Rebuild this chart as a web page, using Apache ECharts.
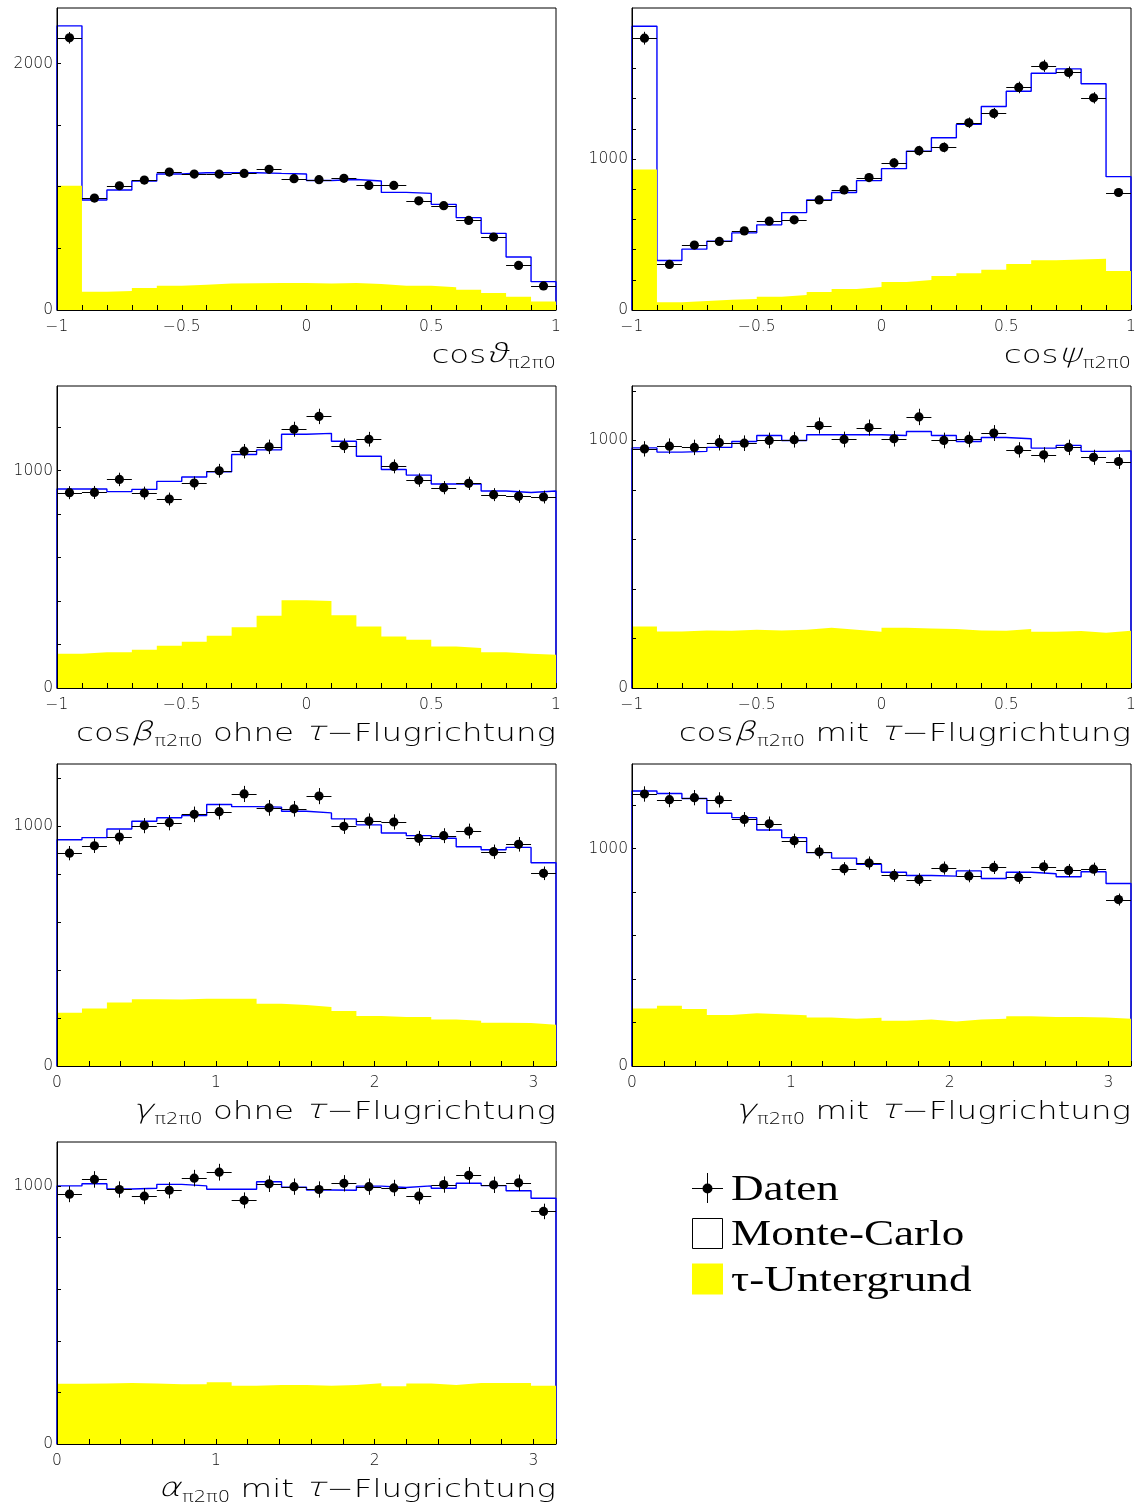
<!DOCTYPE html>
<html>
<head>
<meta charset="utf-8">
<script src="https://cdn.jsdelivr.net/npm/echarts@6/dist/echarts.min.js"></script>
<style>
  html, body { margin: 0; padding: 0; background: #fff; }
  #chart { width: 1140px; height: 1511px; }
</style>
</head>
<body>
<div id="chart"></div>
<script>
// ---- binning ---------------------------------------------------------
const N_BINS = 20;
const COS_RANGE = [-1, 1];
const ANGLE_RANGE = [0, Math.PI];

// ---- tick labels -----------------------------------------------------
const cosTickLabels = [-1, -0.5, 0, 0.5, 1];
const angleTickLabels = [0, 1, 2, 3];
const yLabelsTheta = [0, 2000];
const yLabelsOther = [0, 1000];

// ---- cos(theta) ------------------------------------------------------
const cosThetaData = [2208, 908, 1008, 1054, 1119, 1103, 1103, 1108, 1141, 1065, 1057, 1068, 1011, 1011, 886, 846, 727, 592, 362, 195];
const cosThetaMC   = [2305, 892, 973, 1046, 1103, 1114, 1114, 1114, 1108, 1103, 1051, 1059, 1046, 954, 946, 857, 749, 622, 430, 230];
const cosThetaBkg  = [1008, 149, 154, 178, 197, 205, 214, 216, 219, 219, 214, 219, 211, 197, 197, 184, 165, 138, 108, 68];

// ---- cos(psi) --------------------------------------------------------
const cosPsiData = [1800, 302, 430, 454, 524, 588, 597, 729, 795, 877, 974, 1055, 1077, 1240, 1302, 1474, 1617, 1573, 1405, 778];
const cosPsiMC   = [1879, 328, 403, 456, 511, 564, 645, 729, 778, 857, 936, 1051, 1141, 1229, 1348, 1449, 1568, 1597, 1498, 883];
const cosPsiBkg  = [930, 51, 59, 68, 73, 88, 99, 119, 139, 152, 185, 198, 225, 244, 267, 304, 330, 335, 339, 258];

// ---- cos(beta) without tau direction ---------------------------------
const cosBetaOhneData = [899, 900, 960, 897, 870, 943, 1000, 1090, 1110, 1191, 1250, 1115, 1145, 1020, 957, 922, 942, 890, 882, 879];
const cosBetaOhneMC   = [916, 916, 904, 914, 951, 971, 995, 1075, 1096, 1168, 1172, 1136, 1067, 1006, 980, 939, 939, 907, 900, 907];
const cosBetaOhneBkg  = [158, 164, 164, 176, 194, 213, 240, 280, 332, 404, 401, 335, 283, 237, 222, 191, 184, 164, 158, 153];

// ---- cos(beta) with tau direction ------------------------------------
const cosBetaMitData = [966, 977, 972, 991, 989, 1000, 1003, 1060, 1004, 1052, 1007, 1095, 1000, 1004, 1030, 962, 942, 972, 932, 915];
const cosBetaMitMC   = [970, 953, 956, 972, 996, 1020, 1000, 1023, 1023, 1023, 1020, 1036, 1020, 996, 1012, 1007, 969, 980, 956, 958];
const cosBetaMitBkg  = [248, 228, 232, 231, 235, 232, 235, 243, 235, 227, 243, 240, 238, 232, 231, 238, 227, 230, 223, 231];

// ---- gamma without tau direction -------------------------------------
const gammaOhneData = [888, 919, 955, 1003, 1015, 1050, 1061, 1135, 1077, 1073, 1126, 1000, 1022, 1018, 950, 961, 980, 894, 925, 804];
const gammaOhneMC   = [944, 953, 989, 1021, 1036, 1045, 1091, 1082, 1080, 1063, 1056, 1031, 1006, 972, 961, 950, 915, 902, 912, 848];
const gammaOhneBkg  = [222, 240, 265, 279, 277, 281, 281, 281, 260, 254, 246, 229, 209, 204, 204, 194, 189, 180, 179, 172];

// ---- gamma with tau direction ----------------------------------------
const gammaMitData = [1252, 1226, 1235, 1225, 1135, 1115, 1037, 986, 908, 934, 877, 858, 911, 875, 914, 868, 917, 900, 906, 766];
const gammaMitMC   = [1266, 1254, 1231, 1163, 1143, 1086, 1051, 982, 957, 928, 892, 877, 874, 898, 863, 892, 885, 871, 894, 840];
const gammaMitBkg  = [265, 277, 262, 235, 243, 238, 234, 223, 217, 222, 208, 214, 205, 214, 217, 229, 226, 226, 223, 217];

// ---- alpha with tau direction ----------------------------------------
const alphaMitData = [968, 1025, 986, 960, 983, 1030, 1053, 944, 1008, 997, 986, 1010, 997, 992, 960, 1005, 1041, 1004, 1012, 901];
const alphaMitMC   = [1000, 1008, 988, 991, 1006, 1000, 987, 987, 1016, 995, 984, 983, 999, 994, 1000, 991, 1010, 1001, 981, 952];
const alphaMitBkg  = [233, 234, 236, 234, 231, 231, 239, 226, 229, 229, 226, 229, 235, 224, 234, 229, 236, 236, 236, 226];

// ---- styling ---------------------------------------------------------
const YELLOW = '#ffff00';
const BLUE = '#0000ff';
const LABEL_FONT = '"DejaVu Sans", "Open Sans", sans-serif';
const TITLE_FONT = '"DejaVu Sans", "Open Sans", sans-serif';
const LEGEND_FONT = '"Liberation Serif", "DejaVu Serif", serif';

const COL_X = [57, 632];
const ROW_Y = [8, 386, 764, 1142];
const PLOT_W = 499;
const PLOT_H = 302;

const TAU_FLUG = '\u2212Flugrichtung';

// panels: which arrays go where
const panels = [
  { col: 0, row: 0, range: COS_RANGE, xStep: 0.1, xLabels: cosTickLabels, yMax: 2450, yStep: 500, yLabels: yLabelsTheta,
    data: cosThetaData, mc: cosThetaMC, bkg: cosThetaBkg,
    title: [['cos', 'm'], ['\u03D1', 'g'], ['\u03C02\u03C00', 's']] },
  { col: 1, row: 0, range: COS_RANGE, xStep: 0.1, xLabels: cosTickLabels, yMax: 2000, yStep: 200, yLabels: yLabelsOther,
    data: cosPsiData, mc: cosPsiMC, bkg: cosPsiBkg,
    title: [['cos', 'm'], ['\u03C8', 'g'], ['\u03C02\u03C00', 's']] },
  { col: 0, row: 1, range: COS_RANGE, xStep: 0.1, xLabels: cosTickLabels, yMax: 1390, yStep: 200, yLabels: yLabelsOther,
    data: cosBetaOhneData, mc: cosBetaOhneMC, bkg: cosBetaOhneBkg,
    title: [['cos', 'm'], ['\u03B2', 'g'], ['\u03C02\u03C00', 's'], [' ohne ', 'm'], ['\u03C4', 'g'], [TAU_FLUG, 'm']] },
  { col: 1, row: 1, range: COS_RANGE, xStep: 0.1, xLabels: cosTickLabels, yMax: 1220, yStep: 200, yLabels: yLabelsOther,
    data: cosBetaMitData, mc: cosBetaMitMC, bkg: cosBetaMitBkg,
    title: [['cos', 'm'], ['\u03B2', 'g'], ['\u03C02\u03C00', 's'], [' mit ', 'm'], ['\u03C4', 'g'], [TAU_FLUG, 'm']] },
  { col: 0, row: 2, range: ANGLE_RANGE, xStep: 0.2, xLabels: angleTickLabels, yMax: 1260, yStep: 200, yLabels: yLabelsOther,
    data: gammaOhneData, mc: gammaOhneMC, bkg: gammaOhneBkg,
    title: [['\u03B3', 'g'], ['\u03C02\u03C00', 's'], [' ohne ', 'm'], ['\u03C4', 'g'], [TAU_FLUG, 'm']] },
  { col: 1, row: 2, range: ANGLE_RANGE, xStep: 0.2, xLabels: angleTickLabels, yMax: 1390, yStep: 200, yLabels: yLabelsOther,
    data: gammaMitData, mc: gammaMitMC, bkg: gammaMitBkg,
    title: [['\u03B3', 'g'], ['\u03C02\u03C00', 's'], [' mit ', 'm'], ['\u03C4', 'g'], [TAU_FLUG, 'm']] },
  { col: 0, row: 3, range: ANGLE_RANGE, xStep: 0.2, xLabels: angleTickLabels, yMax: 1170, yStep: 200, yLabels: yLabelsOther,
    data: alphaMitData, mc: alphaMitMC, bkg: alphaMitBkg,
    title: [['\u03B1', 'g'], ['\u03C02\u03C00', 's'], [' mit ', 'm'], ['\u03C4', 'g'], [TAU_FLUG, 'm']] }
];

function binEdges(range) {
  const w = (range[1] - range[0]) / N_BINS;
  const e = [];
  for (let i = 0; i <= N_BINS; i++) e.push(range[0] + i * w);
  return e;
}

// outline of a histogram as step points (vertical move first)
function stepPoints(edges, values) {
  const pts = [[edges[0], 0]];
  values.forEach((v, i) => pts.push([edges[i + 1], v]));
  pts.push([edges[N_BINS], 0]);
  return pts;
}

function fmtNum(v) {
  const s = String(Math.abs(Math.round(v * 1000) / 1000));
  return v < -1e-9 ? '\u2212' + s : s;
}

function labelFormatter(list) {
  return function (v) {
    for (const t of list) if (Math.abs(v - t) < 1e-6) return fmtNum(t);
    return '';
  };
}

const grids = [], xAxes = [], yAxes = [], series = [], graphics = [];

panels.forEach((p, i) => {
  const left = COL_X[p.col], top = ROW_Y[p.row];
  grids.push({ left: left, top: top, width: PLOT_W, height: PLOT_H, show: true,
    borderColor: '#000', borderWidth: 1, backgroundColor: 'transparent', containLabel: false });

  xAxes.push({ gridIndex: i, type: 'value', min: p.range[0], max: p.range[1], interval: p.xStep, z: 5,
    axisLine: { show: true, onZero: false, lineStyle: { color: '#000', width: 1 } },
    axisTick: { show: true, inside: true, length: 5, lineStyle: { color: '#000', width: 1 } },
    minorTick: { show: false },
    splitLine: { show: false },
    axisLabel: { show: true, margin: 9, color: '#111', fontFamily: LABEL_FONT, fontSize: 15.5, fontWeight: 200,
      formatter: labelFormatter(p.xLabels), showMinLabel: true, showMaxLabel: true, hideOverlap: false } });

  yAxes.push({ gridIndex: i, type: 'value', min: 0, max: p.yMax, interval: p.yStep, z: 5,
    axisLine: { show: true, onZero: false, lineStyle: { color: '#000', width: 1 } },
    axisTick: { show: true, inside: true, length: 4, lineStyle: { color: '#000', width: 1 } },
    splitLine: { show: false },
    axisLabel: { show: true, margin: 4, color: '#111', fontFamily: LABEL_FONT, fontSize: 15.5, fontWeight: 200,
      formatter: labelFormatter(p.yLabels), showMaxLabel: false } });

  const edges = binEdges(p.range);

  // Monte-Carlo outline
  series.push({ type: 'line', xAxisIndex: i, yAxisIndex: i, step: 'start', z: 2,
    data: stepPoints(edges, p.mc), showSymbol: false, symbol: 'none', silent: true, animation: false,
    lineStyle: { color: BLUE, width: 1.4 } });

  // tau background, filled
  series.push({ type: 'line', xAxisIndex: i, yAxisIndex: i, step: 'start', z: 3,
    data: stepPoints(edges, p.bkg), showSymbol: false, symbol: 'none', silent: true, animation: false,
    lineStyle: { width: 0, opacity: 0 }, areaStyle: { color: YELLOW, opacity: 1 } });

  // data points with error bars (Poisson errors)
  series.push({ type: 'custom', xAxisIndex: i, yAxisIndex: i, z: 4, silent: true, animation: false,
    data: p.data.map((v, k) => [(edges[k] + edges[k + 1]) / 2, edges[k], edges[k + 1], v, Math.sqrt(v)]),
    encode: { x: 0, y: 3 },
    renderItem: function (params, api) {
      const x = api.value(0), lo = api.value(1), hi = api.value(2), v = api.value(3), e = api.value(4);
      const c = api.coord([x, v]);
      const l = api.coord([lo, v]), r = api.coord([hi, v]);
      const t = api.coord([x, v + e]), b = api.coord([x, v - e]);
      const cy = Math.round(c[1]) + 0.5, cx = Math.round(c[0]) + 0.5;
      return { type: 'group', children: [
        { type: 'line', shape: { x1: l[0], y1: cy, x2: r[0], y2: cy }, style: { stroke: '#000', lineWidth: 1 } },
        { type: 'line', shape: { x1: cx, y1: t[1], x2: cx, y2: b[1] }, style: { stroke: '#000', lineWidth: 1 } },
        { type: 'circle', shape: { cx: c[0], cy: c[1], r: 4.6 }, style: { fill: '#000' } }
      ] };
    } });
});

// ---- axis titles (with subscripts), right aligned under each plot ----
const measureCtx = document.createElement('canvas').getContext('2d');
const TITLE_SIZE = 25, SUB_SIZE = 15, TITLE_SCALE = 1.3;
function tokenFont(kind) {
  if (kind === 's') return '200 ' + SUB_SIZE + 'px ' + TITLE_FONT;
  if (kind === 'g') return '200 ' + (TITLE_SIZE + 1) + 'px ' + TITLE_FONT;
  return '200 ' + TITLE_SIZE + 'px ' + TITLE_FONT;
}
panels.forEach((p) => {
  const right = COL_X[p.col] + PLOT_W;
  const baseline = ROW_Y[p.row] + PLOT_H + 53;
  const widths = p.title.map(([txt, kind]) => {
    measureCtx.font = tokenFont(kind);
    return measureCtx.measureText(txt).width + (kind === 'g' ? 1.5 : 0);
  });
  const total = widths.reduce((a, b) => a + b, 0);
  let x = -total;
  const children = p.title.map(([txt, kind], k) => {
    const size = kind === 's' ? SUB_SIZE : TITLE_SIZE;
    const base = kind === 's' ? 5 : 0;
    const el = { type: 'text', x: x, y: base,
      style: { text: txt, font: tokenFont(kind), fill: '#000', textAlign: 'left', align: 'left',
        textVerticalAlign: 'bottom', verticalAlign: 'bottom', y: 0.22 * size } };
    if (kind === 'g') el.skewX = -0.25;
    x += widths[k];
    return el;
  });
  graphics.push({ type: 'group', x: right, y: baseline, scaleX: TITLE_SCALE, children: children, silent: true });
});

// ---- legend ----------------------------------------------------------
const legendItems = ['Daten', 'Monte-Carlo', '\u03C4-Untergrund'];
const LEG_X = 692, LEG_Y = [1188, 1233.5, 1279], LEG_BOX = 31;
graphics.push({ type: 'group', silent: true, children: [
  { type: 'line', shape: { x1: LEG_X, y1: LEG_Y[0] + 0.5, x2: LEG_X + LEG_BOX, y2: LEG_Y[0] + 0.5 }, style: { stroke: '#000', lineWidth: 1 } },
  { type: 'line', shape: { x1: LEG_X + 15.5, y1: LEG_Y[0] - 15, x2: LEG_X + 15.5, y2: LEG_Y[0] + 15 }, style: { stroke: '#000', lineWidth: 1 } },
  { type: 'circle', shape: { cx: LEG_X + 15.5, cy: LEG_Y[0] + 0.5, r: 5 }, style: { fill: '#000' } },
  { type: 'rect', shape: { x: LEG_X + 0.5, y: LEG_Y[1] - 15, width: LEG_BOX - 1, height: LEG_BOX - 1 }, style: { fill: '#fff', stroke: '#000', lineWidth: 1 } },
  { type: 'rect', shape: { x: LEG_X, y: LEG_Y[2] - 15.5, width: LEG_BOX, height: LEG_BOX }, style: { fill: YELLOW } }
].concat(legendItems.map((txt, k) => ({
  type: 'text', x: 731, y: LEG_Y[k] + 2.5, scaleX: 1.29,
  style: { text: txt, font: '35px ' + LEGEND_FONT, fill: '#000', textAlign: 'left', align: 'left',
    textVerticalAlign: 'middle', verticalAlign: 'middle' }
}))) });

const chart = echarts.init(document.getElementById('chart'), null, { renderer: 'canvas' });
chart.setOption({
  animation: false,
  backgroundColor: '#fff',
  grid: grids,
  xAxis: xAxes,
  yAxis: yAxes,
  series: series,
  graphic: graphics
});
</script>
</body>
</html>
